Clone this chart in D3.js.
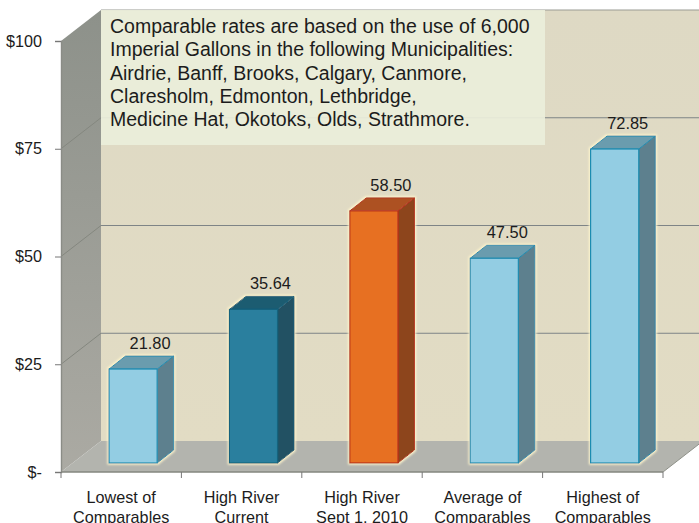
<!DOCTYPE html>
<html>
<head>
<meta charset="utf-8">
<script src="https://cdnjs.cloudflare.com/ajax/libs/d3/7.8.5/d3.min.js"></script>
<style>
  html, body { margin: 0; padding: 0; background: #fff; overflow: hidden; }
  text { font-family: "Liberation Sans", Arial, sans-serif; fill: #1c1c1c; }
</style>
</head>
<body>
<div id="chart"></div>
<script>
const categories = [
  ["Lowest of", "Comparables"],
  ["High River", "Current"],
  ["High River", "Sept 1, 2010"],
  ["Average of", "Comparables"],
  ["Highest of", "Comparables"]
];
const values = [21.80, 35.64, 58.50, 47.50, 72.85];
const valueLabels = ["21.80", "35.64", "58.50", "47.50", "72.85"];
const barKinds = ["light", "dark", "orange", "light", "light"];
const yTicks = [0, 25, 50, 75, 100];
const yTickLabels = ["$-", "$25", "$50", "$75", "$100"];
const noteLines = [
  "Comparable rates are based on the use of 6,000",
  "Imperial Gallons in the following Municipalities:",
  "Airdrie, Banff, Brooks, Calgary, Canmore,",
  "Claresholm, Edmonton, Lethbridge,",
  "Medicine Hat, Okotoks, Olds, Strathmore."
];

const width = 699, height = 523;
const depth = { x: 40, y: -31 };      // floor depth of the 3d box
const barDepth = { x: 16.5, y: -13 };
const barInset = { x: 48, y: -9 };    // bar front relative to the front plane

const colors = {
  light: { front: "#93cde3", side: "#5d808e", top: "#6b9cae", edge: "#1f8cb0" },
  dark: { front: "#2a7f9e", side: "#205163", top: "#1b5b71", edge: "#17647e" },
  orange: { front: "#e76f24", side: "#8d441f", top: "#ad5124", edge: "#b8321a" }
};

const x = d3.scaleBand().domain(d3.range(categories.length)).range([61, 663]);
const y = d3.scaleLinear().domain([0, 100]).range([472, 41]);
const barWidth = x.bandwidth() * 0.4;

const svg = d3.select("#chart").append("svg")
  .attr("width", width)
  .attr("height", height)
  .style("display", "block");

const defs = svg.append("defs");
const wallGrad = defs.append("linearGradient").attr("id", "sideWall")
  .attr("x1", 0).attr("y1", 0).attr("x2", 0).attr("y2", 1);
wallGrad.append("stop").attr("offset", "0%").attr("stop-color", "#8d918a");
wallGrad.append("stop").attr("offset", "100%").attr("stop-color", "#abaaa3");

const backGrad = defs.append("linearGradient").attr("id", "backWall")
  .attr("x1", 0).attr("y1", 0).attr("x2", 0).attr("y2", 1);
backGrad.append("stop").attr("offset", "0%").attr("stop-color", "#ded9c4");
backGrad.append("stop").attr("offset", "100%").attr("stop-color", "#e2dcc4");

const halo = defs.append("filter").attr("id", "halo")
  .attr("x", "-20%").attr("y", "-20%").attr("width", "140%").attr("height", "140%");
halo.append("feMorphology").attr("in", "SourceAlpha").attr("operator", "dilate").attr("radius", 0.6).attr("result", "fat");
halo.append("feGaussianBlur").attr("in", "fat").attr("stdDeviation", 1.1).attr("result", "soft");
halo.append("feFlood").attr("flood-color", "#fff6cc").attr("result", "tint");
halo.append("feComposite").attr("in", "tint").attr("in2", "soft").attr("operator", "in").attr("result", "glow");
const haloMerge = halo.append("feMerge");
haloMerge.append("feMergeNode").attr("in", "glow");
haloMerge.append("feMergeNode").attr("in", "SourceGraphic");

const poly = pts => pts.map(p => p.join(",")).join(" ");
const left = x.range()[0], right = x.range()[1];
const top0 = y(100), base = y(0);

// walls and floor
svg.append("polygon")
  .attr("points", poly([[left + depth.x, top0 + depth.y], [width + 2, top0 + depth.y], [width + 2, base + depth.y], [left + depth.x, base + depth.y]]))
  .attr("fill", "url(#backWall)");
svg.append("line")
  .attr("x1", left + depth.x).attr("x2", width)
  .attr("y1", top0 + depth.y).attr("y2", top0 + depth.y)
  .attr("stroke", "#9a9c94").attr("stroke-width", 1.2);
svg.append("polygon")
  .attr("points", poly([[left, top0], [left + depth.x, top0 + depth.y], [left + depth.x, base + depth.y], [left, base]]))
  .attr("fill", "url(#sideWall)");
svg.append("polygon")
  .attr("points", poly([[left, base], [right, base], [right + depth.x, base + depth.y], [left + depth.x, base + depth.y]]))
  .attr("fill", "#b3b4ae");

// gridlines, back wall then side wall
const grid = svg.append("g");
grid.selectAll("line.back")
  .data(yTicks.slice(1, -1))
  .join("line")
  .attr("class", "back")
  .attr("x1", left + depth.x).attr("x2", width)
  .attr("y1", d => y(d) + depth.y).attr("y2", d => y(d) + depth.y)
  .attr("stroke", "#7e8486").attr("stroke-width", 1);
grid.selectAll("line.side")
  .data(yTicks.slice(1, -1))
  .join("line")
  .attr("class", "side")
  .attr("x1", left).attr("x2", left + depth.x)
  .attr("y1", d => y(d)).attr("y2", d => y(d) + depth.y)
  .attr("stroke", "#84877f").attr("stroke-width", 1);

// axes
const yAxis = d3.axisLeft(y).tickValues(yTicks).tickSize(6).tickPadding(13)
  .tickFormat((d, i) => yTickLabels[i]);
const yG = svg.append("g").attr("transform", `translate(${left},0)`).call(yAxis);
yG.select(".domain").attr("stroke", "#8a8c86").attr("stroke-width", 1.4);
yG.selectAll(".tick line").attr("stroke", "#777");
yG.selectAll("text").attr("font-size", 16.2).attr("font-family", null).attr("fill", null);

const xEdges = d3.range(categories.length + 1).map(i => left + i * x.step());
const xAxisG = svg.append("g");
xAxisG.append("line")
  .attr("x1", left).attr("x2", right).attr("y1", base).attr("y2", base)
  .attr("stroke", "#85877f").attr("stroke-width", 1.6);
xAxisG.selectAll("line.tick")
  .data(xEdges)
  .join("line")
  .attr("class", "tick")
  .attr("x1", d => d).attr("x2", d => d)
  .attr("y1", base).attr("y2", base + 6)
  .attr("stroke", "#777");
svg.append("line")
  .attr("x1", right).attr("x2", right + depth.x)
  .attr("y1", base).attr("y2", base + depth.y)
  .attr("stroke", "#8e9088").attr("stroke-width", 1);

xAxisG.selectAll("text.cat")
  .data(categories)
  .join("text")
  .attr("class", "cat")
  .attr("text-anchor", "middle")
  .attr("font-size", 16.2)
  .attr("x", (d, i) => x(i) + x.bandwidth() / 2)
  .attr("y", 503)
  .selectAll("tspan")
  .data(d => d)
  .join("tspan")
  .attr("x", function() { return d3.select(this.parentNode).attr("x"); })
  .attr("dy", (d, i) => i ? 19.5 : 0)
  .text(d => d);

// note box sits over the wall, a little see-through so the $75 line shows
const noteX = left + depth.x, noteY = top0 + depth.y;
svg.append("rect")
  .attr("x", noteX).attr("y", noteY)
  .attr("width", 444).attr("height", 135)
  .attr("fill", "#ebeeda").attr("fill-opacity", 0.93);
svg.append("g").selectAll("text")
  .data(noteLines)
  .join("text")
  .attr("x", noteX + 9)
  .attr("y", (d, i) => 33 + i * 23.25)
  .attr("font-size", 19.5)
  .text(d => d);

// bars
const bars = svg.append("g").selectAll("g")
  .data(values)
  .join("g")
  .attr("filter", "url(#halo)");

const bx = i => x(i) + barInset.x;
const by = d => y(d) + barInset.y;
const bbase = y(0) + barInset.y;

bars.append("polygon")
  .attr("points", (d, i) => poly([
    [bx(i) + barWidth, by(d)],
    [bx(i) + barWidth + barDepth.x, by(d) + barDepth.y],
    [bx(i) + barWidth + barDepth.x, bbase + barDepth.y],
    [bx(i) + barWidth, bbase]]))
  .attr("fill", (d, i) => colors[barKinds[i]].side)
  .attr("stroke", (d, i) => colors[barKinds[i]].edge)
  .attr("stroke-width", 1);
bars.append("polygon")
  .attr("points", (d, i) => poly([
    [bx(i), by(d)],
    [bx(i) + barDepth.x, by(d) + barDepth.y],
    [bx(i) + barWidth + barDepth.x, by(d) + barDepth.y],
    [bx(i) + barWidth, by(d)]]))
  .attr("fill", (d, i) => colors[barKinds[i]].top)
  .attr("stroke", (d, i) => colors[barKinds[i]].edge)
  .attr("stroke-width", 1);
bars.append("rect")
  .attr("x", (d, i) => bx(i))
  .attr("y", d => by(d))
  .attr("width", barWidth)
  .attr("height", d => bbase - by(d))
  .attr("fill", (d, i) => colors[barKinds[i]].front)
  .attr("stroke", (d, i) => colors[barKinds[i]].edge)
  .attr("stroke-width", 1.2);

// value labels
svg.append("g").selectAll("text")
  .data(values)
  .join("text")
  .attr("text-anchor", "middle")
  .attr("font-size", 16.4)
  .attr("x", (d, i) => bx(i) + barWidth / 2 + (i < 3 ? 17 : 13))
  .attr("y", d => by(d) - 20)
  .text((d, i) => valueLabels[i]);
</script>
</body>
</html>
